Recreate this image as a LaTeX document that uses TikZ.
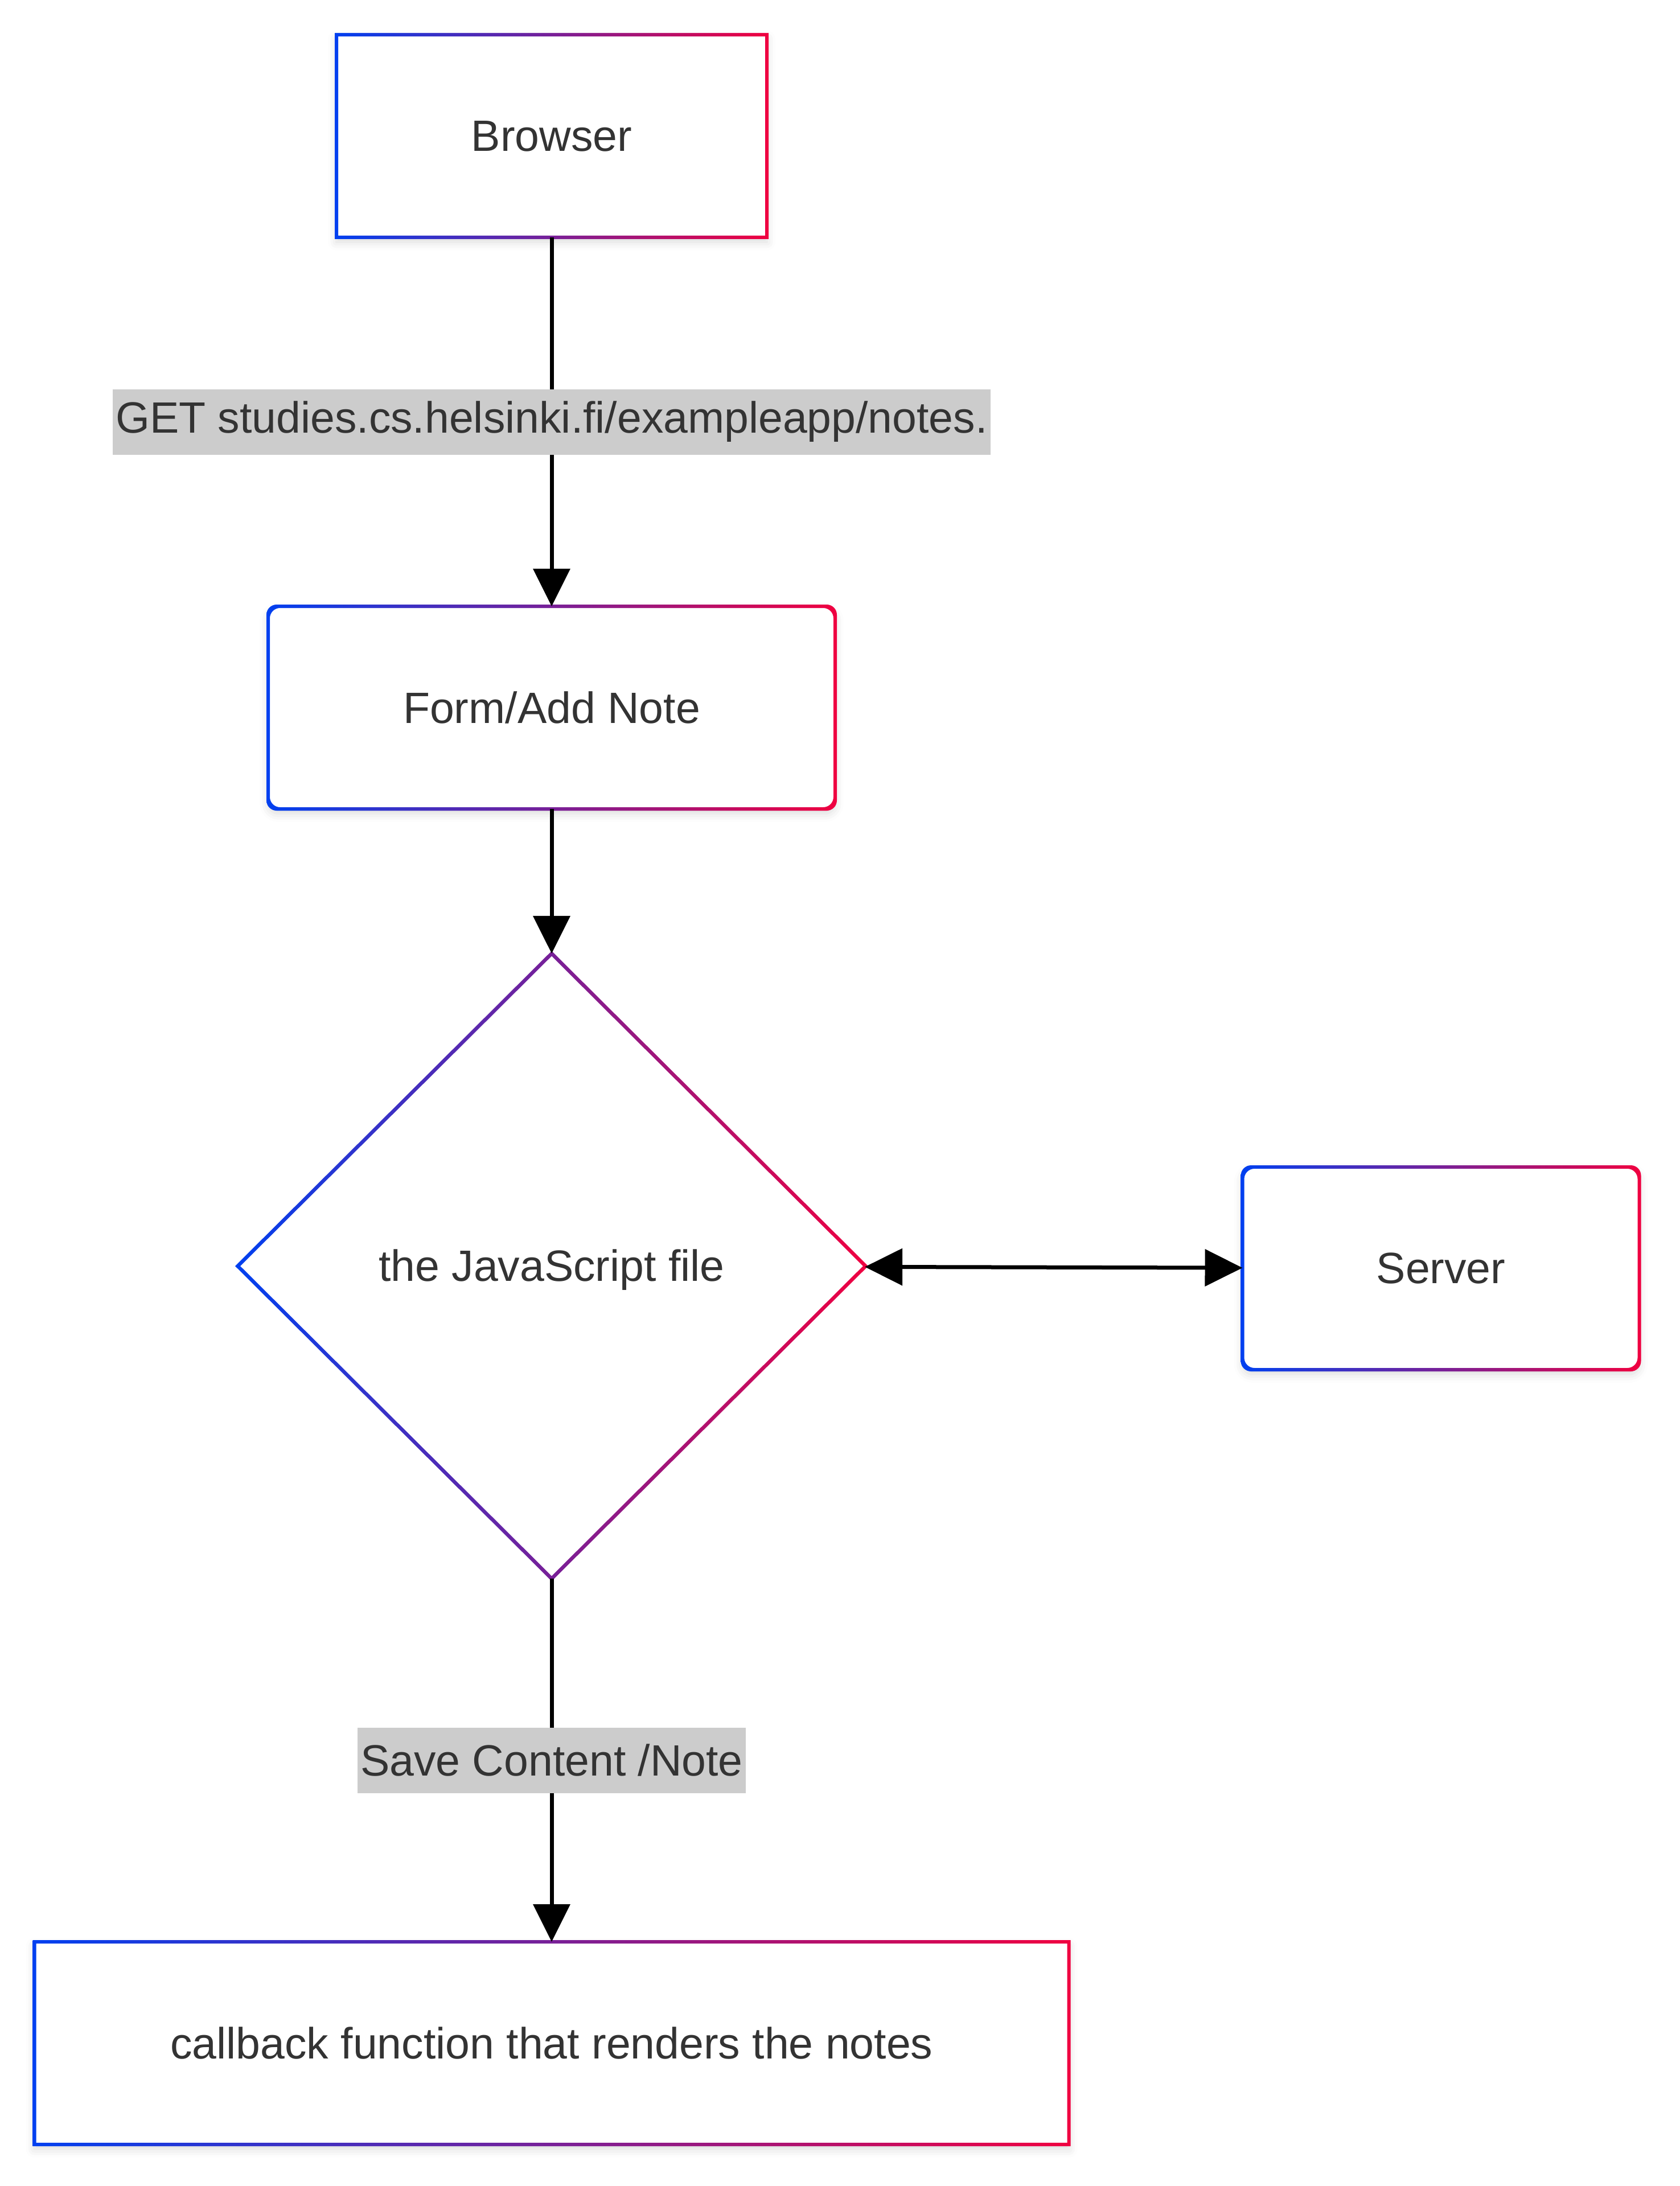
\documentclass[tikz,border=0pt]{standalone}
\usepackage{fontspec}
\setmainfont{Liberation Sans}
\usepackage{tikz}
\usetikzlibrary{shapes.geometric, arrows.meta, shadows.blur}
\definecolor{mmblue}{RGB}{0,64,240}
\definecolor{mmred}{RGB}{240,0,64}
\definecolor{mmtext}{RGB}{51,51,51}
\definecolor{mmlabel}{RGB}{204,204,204}
\newcommand{\mmfont}{\fontsize{21.9}{26}\selectfont}
\tikzstyle{box} = [rectangle, minimum height=3.56cm, text centered, fill=white, draw=none, inner sep=0pt, outer sep=0pt, text=mmtext, font=\mmfont, blur shadow={shadow xshift=0cm, shadow yshift=-0.08cm, shadow blur radius=0.15cm, shadow opacity=15}]
\tikzstyle{roundbox} = [box, rounded corners=0.18cm]
\tikzstyle{decision} = [diamond, minimum width=11.03cm, minimum height=10.98cm, aspect=1, inner sep=0pt, outer sep=0pt, fill=white, draw=none, text=mmtext, font=\mmfont]
\tikzstyle{arrow} = [line width=0.07cm, -{Triangle[length=0.66cm,width=0.64cm]}]
\tikzstyle{dblarrow} = [line width=0.07cm, {Triangle[length=0.66cm,width=0.64cm]}-{Triangle[length=0.66cm,width=0.64cm]}]
\tikzstyle{edgelabel} = [fill=mmlabel, text=mmtext, font=\mmfont, inner xsep=0.05cm, inner ysep=0pt, minimum height=1.15cm]
% gradient border round a rectangular node: name, corner radius
\newcommand{\gradframe}[2]{%
\shade[left color=mmblue, right color=mmred, even odd rule, rounded corners=#2]
 ([xshift=-0.03cm,yshift=-0.03cm]#1.south west) rectangle ([xshift=0.03cm,yshift=0.03cm]#1.north east)
 ([xshift=0.03cm,yshift=0.03cm]#1.south west) rectangle ([xshift=-0.03cm,yshift=-0.03cm]#1.north east);}

\begin{document}
\begin{tikzpicture}[node distance=10cm]
\useasboundingbox (0,0) rectangle (29.51,-38.40);
\node(browser)[box, minimum width=7.56cm] at (9.69,-2.39){Browser};
\node(form)[roundbox, minimum width=9.96cm, below of=browser, yshift=-0.04cm]{Form/Add Note};
\node(dec)[decision, below of=form, yshift=0.19cm]{\raisebox{-0.07cm}[\height][\depth]{the JavaScript file}};
\node(server)[roundbox, minimum width=6.97cm, right of=dec, xshift=5.62cm, yshift=-0.04cm]{Server};
\node(callback)[box, minimum width=18.17cm, below of=dec, yshift=-3.65cm]{callback function that renders the notes};

\gradframe{browser}{0cm}
\gradframe{form}{0.18cm}
\gradframe{server}{0.18cm}
\gradframe{callback}{0cm}
\shade[left color=mmblue, right color=mmred, even odd rule]
 ([xshift=-0.045cm]dec.west) -- ([yshift=0.045cm]dec.north) -- ([xshift=0.045cm]dec.east) -- ([yshift=-0.045cm]dec.south) -- cycle
 ([xshift=0.045cm]dec.west) -- ([yshift=-0.045cm]dec.north) -- ([xshift=-0.045cm]dec.east) -- ([yshift=0.045cm]dec.south) -- cycle;

\draw[arrow] (browser) -- node(getlbl)[edgelabel]{GET studies.cs.helsinki.fi/exampleapp/notes.} (form);
\draw[arrow] (form) -- (dec);
\draw[dblarrow] (dec) -- (server);
\draw[arrow] (dec) -- node(savelbl)[edgelabel]{Save Content /Note} (callback);
\end{tikzpicture}
\end{document}
